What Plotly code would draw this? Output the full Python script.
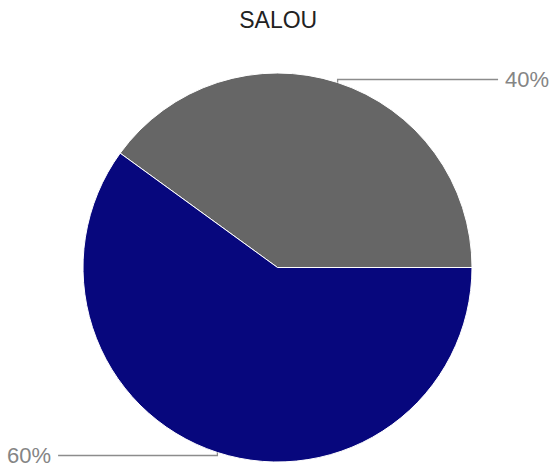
import math
import plotly.graph_objects as go

# Survey share for Salou
categories = ["Categoria 1", "Categoria 2"]
shares = [40, 60]
slice_colors = ["#666666", "#07077d"]

W, H = 551, 468
margin = dict(l=83, r=79, t=73, b=6)
plot_w = W - margin["l"] - margin["r"]
plot_h = H - margin["t"] - margin["b"]

total = sum(shares)
# With counterclockwise direction plotly ends the first slice at `rotation`
# (clockwise from 12 o'clock); shift it so the first slice begins at 3 o'clock.
rotation = 90 - 360.0 * shares[0] / total

fig = go.Figure(
    go.Pie(
        labels=categories,
        values=shares,
        sort=False,
        direction="counterclockwise",
        rotation=rotation,
        marker=dict(colors=slice_colors, line=dict(color="white", width=1)),
        textinfo="none",
        hoverinfo="label+percent",
        showlegend=False,
    )
)

# Leader lines and percentage labels, placed from each slice's mid-angle
start = 0.0  # degrees, measured counterclockwise from 3 o'clock
tick = 3.0 / plot_h
right_end = 1.067
left_end = -0.064
gap = 5.0 / plot_w
shapes, annotations = [], []
for v in shares:
    sweep = 360.0 * v / total
    mid = math.radians(start + sweep / 2)
    start += sweep
    ex = 0.5 + 0.5 * math.cos(mid)
    ey = 0.5 + 0.5 * math.sin(mid)
    ly = ey + (tick if math.sin(mid) >= 0 else -tick)
    if math.cos(mid) >= 0:
        end_x, anchor, tx = right_end, "left", right_end + gap
    else:
        end_x, anchor, tx = left_end, "right", left_end - gap
    shapes.append(dict(
        type="path", xref="paper", yref="paper",
        path=f"M {ex},{ey} L {ex},{ly} L {end_x},{ly}",
        line=dict(color="#8c8c8c", width=1.3),
    ))
    annotations.append(dict(
        x=tx, y=ly, xref="paper", yref="paper",
        xanchor=anchor, yanchor="middle", showarrow=False,
        text=f"{round(100 * v / total)}%",
        font=dict(family="Liberation Sans, Arial", size=22, color="#858585"),
    ))

fig.update_layout(
    width=W, height=H,
    margin=margin,
    paper_bgcolor="white",
    plot_bgcolor="white",
    title=dict(
        text="SALOU", x=0.505, xanchor="center",
        y=1 - 20 / H, yanchor="middle", yref="container",
        font=dict(family="Liberation Sans, Arial", size=23, color="#222222"),
    ),
    shapes=shapes,
    annotations=annotations,
)

fig.write_html("out.html")
